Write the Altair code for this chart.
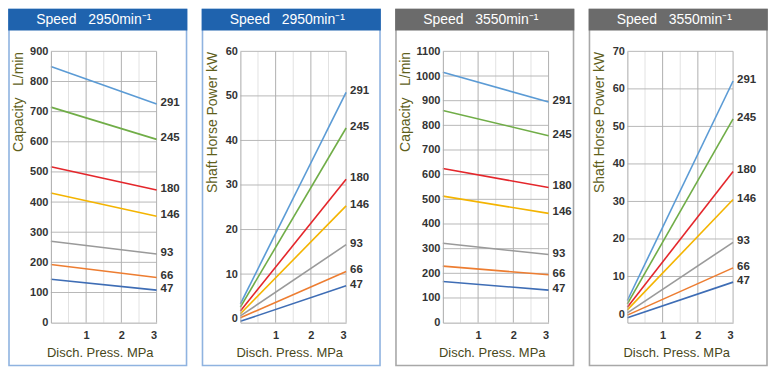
import altair as alt
import pandas as pd

# ---- data ----
models = ["291", "245", "180", "146", "93", "66", "47"]
line_colors = ["#5b9bd5", "#70ad47", "#e4262b", "#f4b400", "#9a9a9a", "#ed7d31", "#3e6db5"]
press_ticks = [1, 2, 3]
press_minor = [0.5, 1.5, 2.5]

cap_2950_start = [850, 715, 517, 430, 270, 193, 144]
cap_2950_end = [725, 608, 440, 353, 228, 150, 108]
pow_2950_start = [3.3, 2.6, 1.7, 1.1, 0.6, 0.2, -0.6]
pow_2950_end = [50.8, 42.8, 31.3, 25.3, 16.6, 10.6, 7.4]
cap_3550_start = [1015, 860, 625, 513, 322, 229, 167]
cap_3550_end = [895, 758, 548, 443, 276, 194, 132]
pow_3550_start = [3.6, 2.7, 1.8, 1.1, 0.3, -0.3, -1.0]
pow_3550_end = [62.1, 52.0, 38.0, 30.5, 19.1, 12.3, 8.5]

cap_2950_ticks = list(range(0, 901, 100))
pow_2950_ticks = list(range(0, 61, 10))
cap_3550_ticks = list(range(0, 1101, 100))
pow_3550_ticks = list(range(0, 71, 10))

BOX_W = 178
PLOT_W = 106
PLOT_H = 272
TOP = 42      # box top above plot
BOTTOM = 315  # box bottom below plot top
FONT = "Liberation Sans, Arial"
NB = "\u00a0"


def panel(title, header_color, border_color, ytitle, ydomain, yticks, ygrid,
          start, end, left):
    rows = []
    for m, s, e in zip(models, start, end):
        rows.append({"model": m, "p": 0, "v": s})
        rows.append({"model": m, "p": 3, "v": e})
    df = pd.DataFrame(rows)
    xs = alt.Scale(domain=[0, 3], nice=False, zero=False)
    ys = alt.Scale(domain=ydomain, nice=False, zero=False)
    xaxis = alt.Axis(
        values=press_ticks, title="Disch. Press. MPa", grid=False, ticks=False, zindex=1,
        domainColor="#aaaaaa", labelFont=FONT, labelFontSize=11, labelColor="#333333",
        labelFontWeight="bold", labelPadding=7,
        titleFont=FONT, titleFontSize=13, titleFontWeight="normal", titleColor="#48481a",
        titleBaseline="middle", titleY=30, titleX=PLOT_W / 2 - 4)
    yaxis = alt.Axis(
        values=yticks, format="d", title=ytitle, grid=False, ticks=False, zindex=1,
        domainColor="#aaaaaa", labelFont=FONT, labelFontSize=11, labelColor="#333333",
        labelFontWeight="bold", labelPadding=3,
        titleFont=FONT, titleFontSize=14, titleFontWeight="normal",
        titleColor="#5f5f1c", titleAngle=270, titleAlign="right", titleBaseline="middle",
        titleX=10 - left, titleY=0)
    dummy = pd.DataFrame({"a": [0]})

    box = alt.Chart(dummy).mark_rect(fill="white", stroke=border_color, strokeWidth=1.6).encode(
        x=alt.value(-left), x2=alt.value(BOX_W - left),
        y=alt.value(-TOP), y2=alt.value(BOTTOM))
    header = alt.Chart(dummy).mark_rect(fill=header_color).encode(
        x=alt.value(-left - 0.8), x2=alt.value(BOX_W - left + 0.8),
        y=alt.value(-TOP - 0.8), y2=alt.value(-TOP + 21))
    htext = alt.Chart(dummy).mark_text(
        text=title, color="white", fontSize=14, font=FONT, fontWeight="normal",
        align="center", baseline="middle"
    ).encode(x=alt.value(BOX_W / 2 - left - 4), y=alt.value(-TOP + 11))

    hgrid = alt.Chart(pd.DataFrame({"v": ygrid})).mark_rule(color="#b8b8b8", strokeWidth=1).encode(
        y=alt.Y("v:Q", scale=ys, axis=yaxis))
    vminor = alt.Chart(pd.DataFrame({"p": press_minor})).mark_rule(color="#e2e2e2", strokeWidth=1).encode(
        x=alt.X("p:Q", scale=xs, axis=xaxis))
    vmajor = alt.Chart(pd.DataFrame({"p": press_ticks})).mark_rule(color="#b0b0b0", strokeWidth=1).encode(
        x=alt.X("p:Q", scale=xs, axis=xaxis))

    lines = alt.Chart(df).mark_line(strokeWidth=1.6).encode(
        x=alt.X("p:Q", scale=xs, axis=xaxis),
        y=alt.Y("v:Q", scale=ys, axis=yaxis),
        color=alt.Color("model:N", scale=alt.Scale(domain=models, range=line_colors), legend=None),
        detail="model:N")

    labels = alt.Chart(df).transform_filter(alt.datum.p == 3).mark_text(
        align="left", baseline="middle", dx=4, dy=-1, fontSize=11.5, font=FONT,
        fontWeight="bold", color="#333333"
    ).encode(x=alt.X("p:Q", scale=xs, axis=xaxis), y=alt.Y("v:Q", scale=ys, axis=yaxis),
             text="model:N")

    return alt.layer(box, header, htext, vminor, hgrid, vmajor, lines, labels).properties(
        width=PLOT_W, height=PLOT_H)


t2950 = "Speed" + NB * 3 + "2950min⁻¹"
t3550 = "Speed" + NB * 3 + "3550min⁻¹"
cap_title = "Capacity" + NB * 3 + "L/min"

p1 = panel(t2950, "#1f63ae", "#8fb3e0", cap_title, [0, 900],
           cap_2950_ticks, cap_2950_ticks[1:], cap_2950_start, cap_2950_end, 42)
p2 = panel(t2950, "#1f63ae", "#8fb3e0", "Shaft Horse Power kW", [-0.9, 60],
           pow_2950_ticks, pow_2950_ticks[1:], pow_2950_start, pow_2950_end, 38)
p3 = panel(t3550, "#6b6b6b", "#a8a8a8", cap_title, [0, 1100],
           cap_3550_ticks, cap_3550_ticks[1:], cap_3550_start, cap_3550_end, 47)
p4 = panel(t3550, "#6b6b6b", "#a8a8a8", "Shaft Horse Power kW", [-2.3, 70],
           pow_3550_ticks, pow_3550_ticks[1:], pow_3550_start, pow_3550_end, 38)

chart = alt.hconcat(p1, p2, p3, p4, spacing=14).properties(padding=0).configure_view(stroke=None)

chart.save("out.html", embed_options={"renderer": "svg", "actions": False})
